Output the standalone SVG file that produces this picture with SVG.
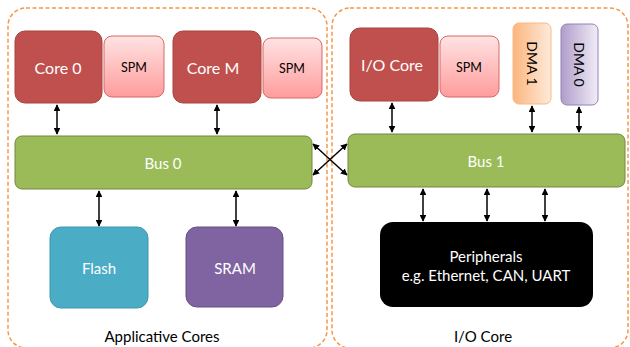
<svg xmlns="http://www.w3.org/2000/svg" width="630" height="347" viewBox="0 0 630 347">
<defs>
<linearGradient id="gSpm" x1="0" y1="0" x2="0" y2="1"><stop offset="0" stop-color="#FFE3E3"/><stop offset="1" stop-color="#FF9C9C"/></linearGradient>
<linearGradient id="gDma1" x1="0" y1="0" x2="1" y2="0"><stop offset="0" stop-color="#FBB57E"/><stop offset="1" stop-color="#FFEBDA"/></linearGradient>
<linearGradient id="gDma0" x1="0" y1="0" x2="1" y2="0"><stop offset="0" stop-color="#B09DCB"/><stop offset="1" stop-color="#F1EDF6"/></linearGradient>
<marker id="ah" viewBox="0 0 10 10" refX="9" refY="5" markerWidth="4.5" markerHeight="4.5" orient="auto-start-reverse" markerUnits="strokeWidth"><path d="M0,0 L10,5 L0,10 z" fill="#000"/></marker>
</defs>
<style>
.cont{fill:#fff;stroke:#F79646;stroke-width:1.5;stroke-dasharray:4 2.5}
.core{fill:#C0504D;stroke:#A8423F;stroke-width:1}
.spm{fill:url(#gSpm);stroke:#D46A67;stroke-width:1}
.bus{fill:#9BBB59;stroke:#71893F;stroke-width:1}
.wt{fill:#fff;font-family:Lato,"Liberation Sans",sans-serif;text-anchor:middle;dominant-baseline:central}
.bt{fill:#000;font-family:Lato,"Liberation Sans",sans-serif;text-anchor:middle;dominant-baseline:central}
.conn line{stroke:#000;stroke-width:1.5;marker-start:url(#ah);marker-end:url(#ah)}
</style>
<rect width="630" height="347" fill="#fff"/>
<g id="applicative-cores">
<rect class="cont" x="8" y="8" width="319" height="340" rx="18"/>
<text class="bt" x="162" y="336" font-size="15">Applicative Cores</text>
</g>
<g id="io-core-group">
<rect class="cont" x="332" y="8" width="296" height="340" rx="18"/>
<text class="bt" x="483" y="336" font-size="15">I/O Core</text>
</g>
<g id="core0"><rect class="core" x="15" y="31" width="87" height="72" rx="10"/><text class="wt" x="58" y="67" font-size="16">Core 0</text></g>
<g id="spm0"><rect class="spm" x="104" y="36" width="60" height="61" rx="8"/><text class="bt" x="134" y="67" font-size="12.5">SPM</text></g>
<g id="coreM"><rect class="core" x="173" y="31" width="88" height="72" rx="10"/><text class="wt" x="213" y="67" font-size="16">Core M</text></g>
<g id="spmM"><rect class="spm" x="263" y="38" width="59" height="60" rx="8"/><text class="bt" x="292" y="68" font-size="12.5">SPM</text></g>
<g id="bus0"><rect class="bus" x="15" y="136" width="297" height="53" rx="7"/><text class="wt" x="163" y="163" font-size="15">Bus 0</text></g>
<g id="flash"><rect x="50" y="227" width="98" height="81" rx="11" fill="#4BACC6" stroke="#3F97AF"/><text class="wt" x="99" y="268" font-size="15">Flash</text></g>
<g id="sram"><rect x="186" y="227" width="97" height="80" rx="11" fill="#8064A2" stroke="#654F82"/><text class="wt" x="235" y="268" font-size="15">SRAM</text></g>
<g id="iocore"><rect class="core" x="350" y="28" width="88" height="73" rx="10"/><text class="wt" x="392" y="64" font-size="16">I/O Core</text></g>
<g id="spmio"><rect class="spm" x="440" y="36" width="59" height="61" rx="8"/><text class="bt" x="469" y="67" font-size="12.5">SPM</text></g>
<g id="dma1"><rect x="513" y="23" width="38" height="81" rx="6" fill="url(#gDma1)" stroke="#F9B887"/><text class="bt" transform="translate(532 63.5) rotate(90)" font-size="14">DMA 1</text></g>
<g id="dma0"><rect x="561" y="24" width="37" height="81" rx="6" fill="url(#gDma0)" stroke="#9581B4"/><text class="bt" transform="translate(579.5 64.5) rotate(90)" font-size="14">DMA 0</text></g>
<g id="bus1"><rect class="bus" x="348" y="134" width="277" height="53" rx="7"/><text class="wt" x="486" y="161" font-size="15">Bus 1</text></g>
<g id="peripherals"><rect x="380" y="222" width="213" height="85" rx="13" fill="#000"/><text class="wt" x="486" y="256" font-size="15">Peripherals</text><text class="wt" x="486" y="275" font-size="15">e.g. Ethernet, CAN, UART</text></g>
<g id="connectors" class="conn">
<line x1="57" y1="105" x2="57" y2="134"/>
<line x1="217" y1="105" x2="217" y2="134"/>
<line x1="99" y1="191" x2="99" y2="226"/>
<line x1="236" y1="191" x2="236" y2="226"/>
<line x1="392" y1="103" x2="392" y2="132"/>
<line x1="532" y1="106" x2="532" y2="132"/>
<line x1="579" y1="107" x2="579" y2="132"/>
<line x1="423" y1="189" x2="423" y2="221"/>
<line x1="487" y1="189" x2="487" y2="221"/>
<line x1="545" y1="189" x2="545" y2="221"/>
<line x1="313" y1="144" x2="347" y2="175"/>
<line x1="313" y1="175" x2="347" y2="144"/>
</g>
</svg>
